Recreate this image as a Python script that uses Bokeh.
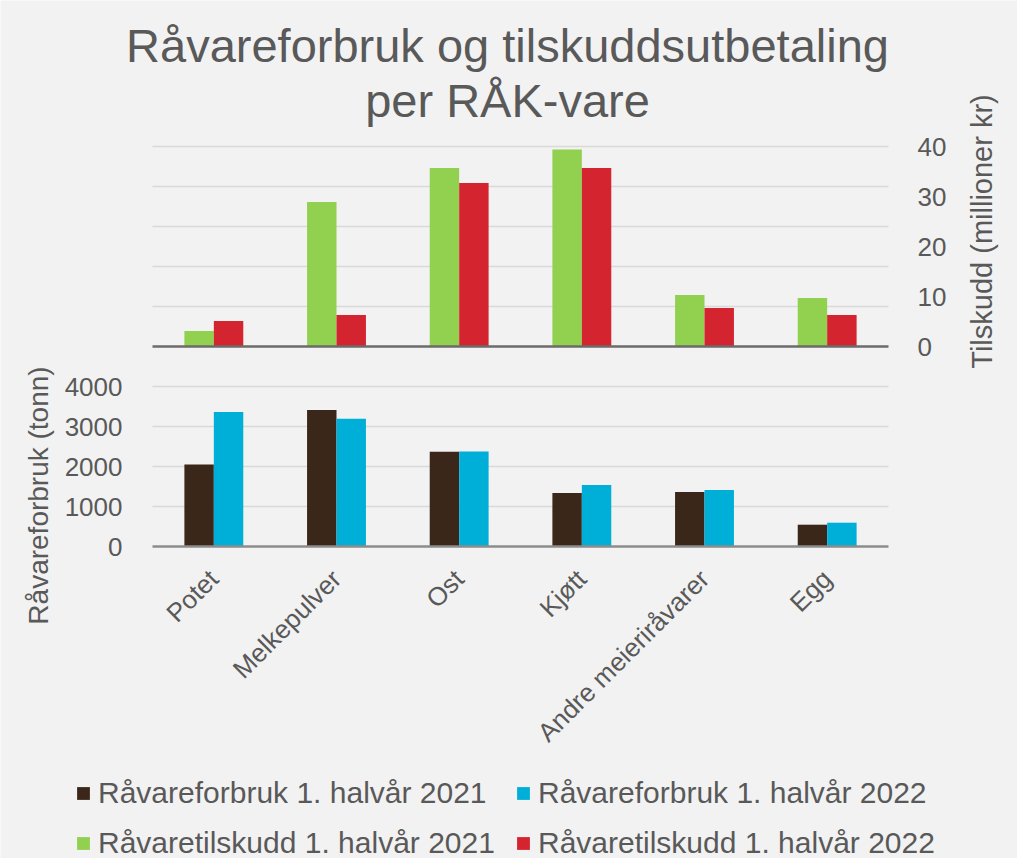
import math
from bokeh.plotting import figure
from bokeh.models import (Range1d, LinearAxis, FixedTicker, Label, Legend,
                          LegendItem, ColumnDataSource)
from bokeh.transform import dodge
from bokeh.embed import file_html
from bokeh.resources import INLINE

# ---------------- data ----------------
categories = ["Potet", "Melkepulver", "Ost", "Kjøtt", "Andre meieriråvarer", "Egg"]
forbruk_2021 = [2050, 3410, 2370, 1335, 1360, 545]      # tonn
forbruk_2022 = [3360, 3195, 2375, 1535, 1415, 595]      # tonn
tilskudd_2021 = [3.1, 28.9, 35.7, 39.4, 10.3, 9.7]      # millioner kr
tilskudd_2022 = [5.1, 6.3, 32.7, 35.7, 7.7, 6.3]        # millioner kr
left_ticks = [0, 1000, 2000, 3000, 4000]
right_ticks = [0, 10, 20, 30, 40]
grid_ticks = [1000, 2000, 3000, 4000, 6000, 7000, 8000, 9000, 10000]
series_names = ["Råvareforbruk 1. halvår 2021", "Råvareforbruk 1. halvår 2022",
                "Råvaretilskudd 1. halvår 2021", "Råvaretilskudd 1. halvår 2022"]
title_lines = ["Råvareforbruk og tilskuddsutbetaling", "per RÅK-vare"]
left_label = "Råvareforbruk (tonn)"
right_label = "Tilskudd (millioner kr)"

# ---------------- layout / style ----------------
W, H = 1017, 858
FL, FR, FT, FB = 152, 888, 146, 546           # plot area in pixels
n = len(categories)
ux = (FR - FL) / n                             # pixels per category
uy = 10000 / (FB - FT)                         # left-axis units per pixel
ur = 80 / (FB - FT)                            # right-axis units per pixel

def X(px):
    return (px - FL) / ux

def Y(py):
    return (FB - py) * uy

BG = "#f2f2f2"
TXT = "#595959"
FONT = "Liberation Sans"
C_BROWN = "#3b2719"
C_BLUE = "#00afd8"
C_GREEN = "#92d050"
C_RED = "#d4242f"

p = figure(x_range=Range1d(X(0), X(W)), y_range=Range1d(Y(H), Y(0)),
           width=W, height=H, output_backend="svg", toolbar_location=None,
           min_border=0, background_fill_color=BG, border_fill_color=BG,
           outline_line_color=None, title=None)
p.extra_y_ranges = {"tilskudd": Range1d(-(H - (FT + FB) / 2) * ur, ((FT + FB) / 2) * ur)}
p.xgrid.visible = False
p.ygrid.visible = False

xpos = [i + 0.5 for i in range(n)]
src = ColumnDataSource(dict(x=xpos, cat=categories, f21=forbruk_2021, f22=forbruk_2022,
                            t21=tilskudd_2021, t22=tilskudd_2022))

# gridlines across the category span
p.segment(x0=[0] * len(grid_ticks), x1=[n] * len(grid_ticks), y0=grid_ticks,
          y1=grid_ticks, line_color="#d9d9d9", line_width=1.5)

r1 = p.vbar(x=dodge("x", -0.12), top="f21", width=0.24, source=src,
            fill_color=C_BROWN, line_color=None)
r2 = p.vbar(x=dodge("x", 0.12), top="f22", width=0.24, source=src,
            fill_color=C_BLUE, line_color=None)
r3 = p.vbar(x=dodge("x", -0.12), top="t21", bottom=0, width=0.24, source=src,
            fill_color=C_GREEN, line_color=None, y_range_name="tilskudd")
r4 = p.vbar(x=dodge("x", 0.12), top="t22", bottom=0, width=0.24, source=src,
            fill_color=C_RED, line_color=None, y_range_name="tilskudd")

# zero line of the subsidy axis
p.segment(x0=[0], x1=[n], y0=[0], y1=[0], y_range_name="tilskudd",
          line_color="#6b6b6b", line_width=2.5)

# left axis (tonn)
ya = p.yaxis[0]
ya.fixed_location = 0
ya.ticker = FixedTicker(ticks=left_ticks)
ya.axis_line_color = None
ya.major_tick_line_color = None
ya.minor_tick_line_color = None
ya.major_label_standoff = 24
ya.major_label_text_font_size = "26px"
ya.major_label_text_color = TXT
ya.major_label_text_font = FONT

# right axis (millioner kr)
ra = LinearAxis(y_range_name="tilskudd", ticker=FixedTicker(ticks=right_ticks),
                fixed_location=n, axis_line_color=None, major_tick_line_color=None,
                minor_tick_line_color=None, major_label_standoff=23,
                major_label_text_font_size="26px", major_label_text_color=TXT,
                major_label_text_font=FONT)
p.add_layout(ra, "right")

# category axis
xa = p.xaxis[0]
xa.fixed_location = 0
xa.bounds = (0, n)
xa.ticker = FixedTicker(ticks=xpos)
xa.major_label_overrides = {x: c for x, c in zip(xpos, categories)}
xa.axis_line_color = "#8c8c8c"
xa.axis_line_width = 2.5
xa.major_tick_line_color = None
xa.minor_tick_line_color = None
xa.major_label_orientation = math.pi / 4
xa.major_label_standoff = 22
xa.major_label_text_font_size = "26px"
xa.major_label_text_color = TXT
xa.major_label_text_font = FONT

# title (two lines) and axis labels
p.add_layout(Label(x=X(507), y=Y(45), text=title_lines[0], text_align="center",
                   text_baseline="alphabetic", text_font_size="47px",
                   text_color=TXT, text_font=FONT))
p.add_layout(Label(x=X(507), y=Y(100), text=title_lines[1], text_align="center",
                   text_baseline="alphabetic", text_font_size="47px",
                   text_color=TXT, text_font=FONT))
p.add_layout(Label(x=X(38), y=Y(495), text=left_label, angle=math.pi / 2,
                   text_align="center", text_baseline="middle",
                   text_font_size="28px", text_color=TXT, text_font=FONT))
p.add_layout(Label(x=X(981), y=Y(231), text=right_label, angle=math.pi / 2,
                   text_align="center", text_baseline="middle",
                   text_font_size="29px", text_color=TXT, text_font=FONT))

# legends (two rows)
def make_legend(items, loc):
    return Legend(items=items, orientation="horizontal", location=loc,
                  background_fill_alpha=0, border_line_color=None, padding=0,
                  margin=0, spacing=11, glyph_width=16, glyph_height=16,
                  label_standoff=7, label_width=406, label_text_font_size="30px",
                  label_text_color=TXT, label_text_font=FONT)

leg1 = make_legend([LegendItem(label=series_names[0], renderers=[r1]),
                    LegendItem(label=series_names[1], renderers=[r2])], (75, H - 810))
leg2 = make_legend([LegendItem(label=series_names[2], renderers=[r3]),
                    LegendItem(label=series_names[3], renderers=[r4])], (75, -2))
p.add_layout(leg1)
p.add_layout(leg2)

html = file_html(p, INLINE)
html = html.replace("<body>", '<body style="background:#f2f2f2">', 1)
open("out.html", "w").write(html)
